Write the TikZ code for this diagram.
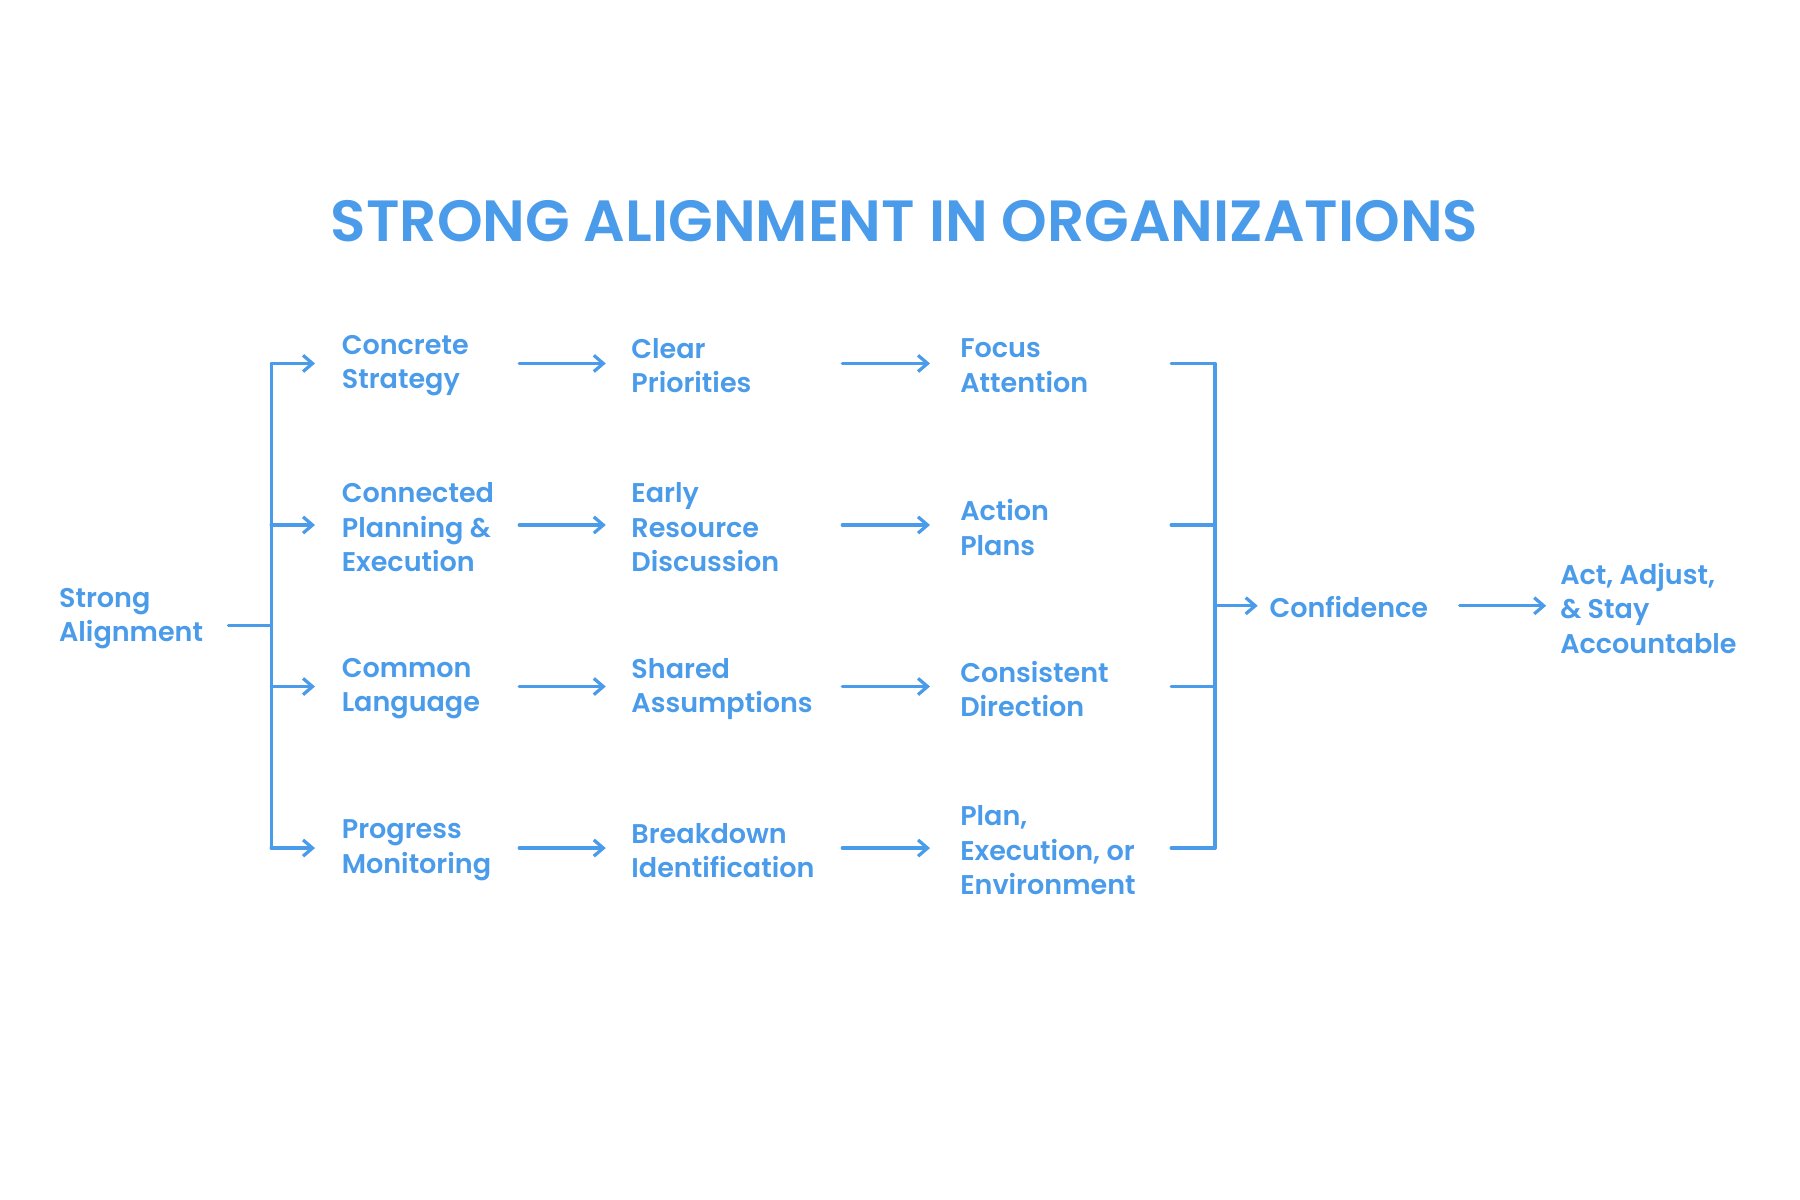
\documentclass[tikz,border=0pt]{standalone}
\usepackage{fontspec}
\setmainfont{Poppins}[BoldFont={* SemiBold}]
\usetikzlibrary{arrows.meta}
\definecolor{ab}{HTML}{4A9BEA}
\begin{document}
\begin{tikzpicture}[x=0.03cm,y=-0.03cm,
  lab/.style={anchor=west,align=left,inner sep=0pt,text=ab,font=\bfseries\fontsize{20}{25.5}\selectfont},
  ln/.style={draw=ab,line width=2.4pt,line cap=round,line join=round},
  ar/.style={ln,-{Straight Barb[length=7pt,width=12pt,line width=2.4pt]}}]
\useasboundingbox (0,0) rectangle (1560,1040);
\node[text=ab,font=\bfseries\fontsize{43}{50}\selectfont] (title) at (784,192) {STRONG ALIGNMENT IN ORGANIZATIONS};
\node[lab] (sa) at (51,536) {Strong\\Alignment};
\foreach \y/\a/\b/\c [count=\i] in {315/{Concrete\\Strategy}/{Clear\\Priorities}/{Focus\\Attention},
  455/{Connected\\Planning \&\\Execution}/{Early\\Resource\\Discussion}/{Action\\Plans},
  595/{Common\\Language}/{Shared\\Assumptions}/{Consistent\\Direction},
  735/{Progress\\Monitoring}/{Breakdown\\Identification}/{Plan,\\Execution, or\\Environment}}{
  \node[lab] (a\i) at (296,\y+2) {\a};
  \node[lab] (b\i) at (547,\y+2) {\b};
  \node[lab] (c\i) at (832,\y+2) {\c};
  \coordinate (l\i) at (235,\y);
  \coordinate (r\i) at (1053,\y);
  \coordinate (a\i e) at (450,\y); \coordinate (b\i w) at (525,\y);
  \coordinate (b\i e) at (730,\y); \coordinate (c\i w) at (806,\y);
  \coordinate (c\i e) at (1015,\y);
  \draw[ar] (l\i) -- (273,\y);
  \draw[ar] (a\i e) -- (b\i w);
  \draw[ar] (b\i e) -- (c\i w);
  \draw[ln] (c\i e) -- (r\i);
}
\coordinate (sae) at (198,542);
\draw[ln] (sae) -- (235,542);
\draw[ln] (l1) -- (l4);
\draw[ln] (r1) -- (r4);
\node[lab] (conf) at (1100,526) {Confidence};
\node[lab] (act) at (1352,527) {Act, Adjust,\\\& Stay\\Accountable};
\coordinate (rm) at (1053,525);
\draw[ar] (rm) -- (1090,525);
\coordinate (ce) at (1265,525);
\draw[ar] (ce) -- (1340,525);
\end{tikzpicture}
\end{document}
